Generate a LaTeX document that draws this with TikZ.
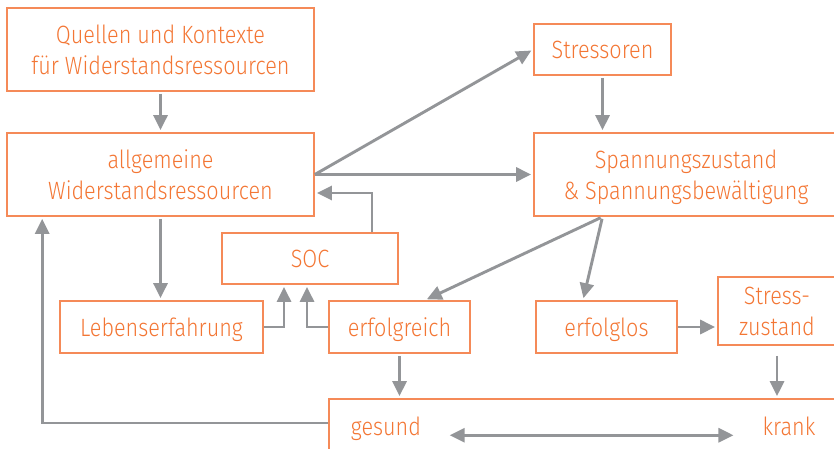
\documentclass[tikz,border=0pt]{standalone}
\usepackage{fontspec}
\setmainfont{Fira Sans Light}[FakeStretch=0.865]
\usetikzlibrary{arrows.meta}

\definecolor{orangetext}{RGB}{243,118,52}
\definecolor{orangeline}{RGB}{245,138,88}
\definecolor{pfeilgrau}{RGB}{147,149,152}

\begin{document}
\begin{tikzpicture}[x=1pt,y=-1pt,
    box/.style={draw=orangeline,line width=1.7pt,text=orangetext,align=center,
                inner sep=0pt,text depth=0pt,font=\fontsize{25}{31}\selectfont},
    txt/.style={text=orangetext,inner sep=0pt,font=\fontsize{25}{31}\selectfont},
    pfeil/.style={draw=pfeilgrau,line width=2.9pt,-{Triangle[length=15pt,width=14pt]},
                  shorten <=2pt,shorten >=2pt}]
    \clip (0,0) rectangle (834,449);

    \node[box,minimum width=307,minimum height=83] (quellen)     at (160.5,49.5)  {Quellen und Kontexte\\für Widerstandsressourcen};
    \node[box,minimum width=307,minimum height=83] (allg)        at (160.5,174.5) {allgemeine\\Widerstandsressourcen};
    \node[box,minimum width=137,minimum height=51] (stressoren)  at (602.5,49.5)  {Stressoren};
    \node[box,minimum width=304,minimum height=83] (spann)       at (686,174.5)   {Spannungszustand\\\& Spannungsbewältigung};
    \node[box,minimum width=176,minimum height=51] (soc)         at (310,258.5)   {SOC};
    \node[box,minimum width=203,minimum height=52] (leben)       at (161.5,327)   {Lebenserfahrung};
    \node[box,minimum width=141,minimum height=52] (erfolgreich) at (399.5,327)   {erfolgreich};
    \node[box,minimum width=141,minimum height=52] (erfolglos)   at (606.5,327)   {erfolglos};
    \node[box,minimum width=118,minimum height=68] (stresszust)  at (777,311)     {Stress-\\zustand};
    \node[box,minimum width=521,minimum height=70] (kontinuum)   at (589.5,434)   {};
    \node[txt,anchor=base] (gesund) at (386,435) {gesund};
    \node[txt,anchor=base] (krank)  at (789,435) {krank};

    \coordinate (gabel) at (stressoren.south |- spann.south);

    \draw[pfeil] (quellen) -- (allg);
    \draw[pfeil,shorten <=0pt] (allg.east) -- (stressoren.west);
    \draw[pfeil,shorten <=0pt] (allg.east) -- (spann.west);
    \draw[pfeil,shorten <=0pt] ([xshift=62pt]soc.north) |- ([yshift=-18.5pt]allg.east);
    \draw[pfeil] (allg.south) -- (allg.south |- leben.north);
    \draw[pfeil] (stressoren.south) -- (stressoren.south |- spann.north);
    \draw[pfeil] (gabel) -- ([xshift=25.5pt]erfolgreich.north);
    \draw[pfeil] (gabel) -- ([xshift=-23.5pt]erfolglos.north);
    \draw[pfeil,shorten <=0pt] (leben.east) -| ([xshift=-26pt]soc.south);
    \draw[pfeil,shorten <=0pt] (erfolgreich.west) -| ([xshift=-3pt]soc.south);
    \draw[pfeil] (erfolgreich.south) -- (erfolgreich.south |- kontinuum.north);
    \draw[pfeil,shorten <=0pt] (erfolglos.east) -- (erfolglos.east -| stresszust.west);
    \draw[pfeil,shorten <=10pt] (stresszust.south) -- (stresszust.south |- kontinuum.north);
    \draw[pfeil,shorten <=0pt] ([yshift=11pt]kontinuum.west) -| ([xshift=36pt]allg.south west);
    \draw[pfeil,{Triangle[length=15pt,width=14pt]}-{Triangle[length=15pt,width=14pt]},
          shorten <=28.5pt,shorten >=29pt] ([yshift=-7pt]gesund.east) -- ([yshift=-7pt]gesund.east -| krank.west);
\end{tikzpicture}
\end{document}
